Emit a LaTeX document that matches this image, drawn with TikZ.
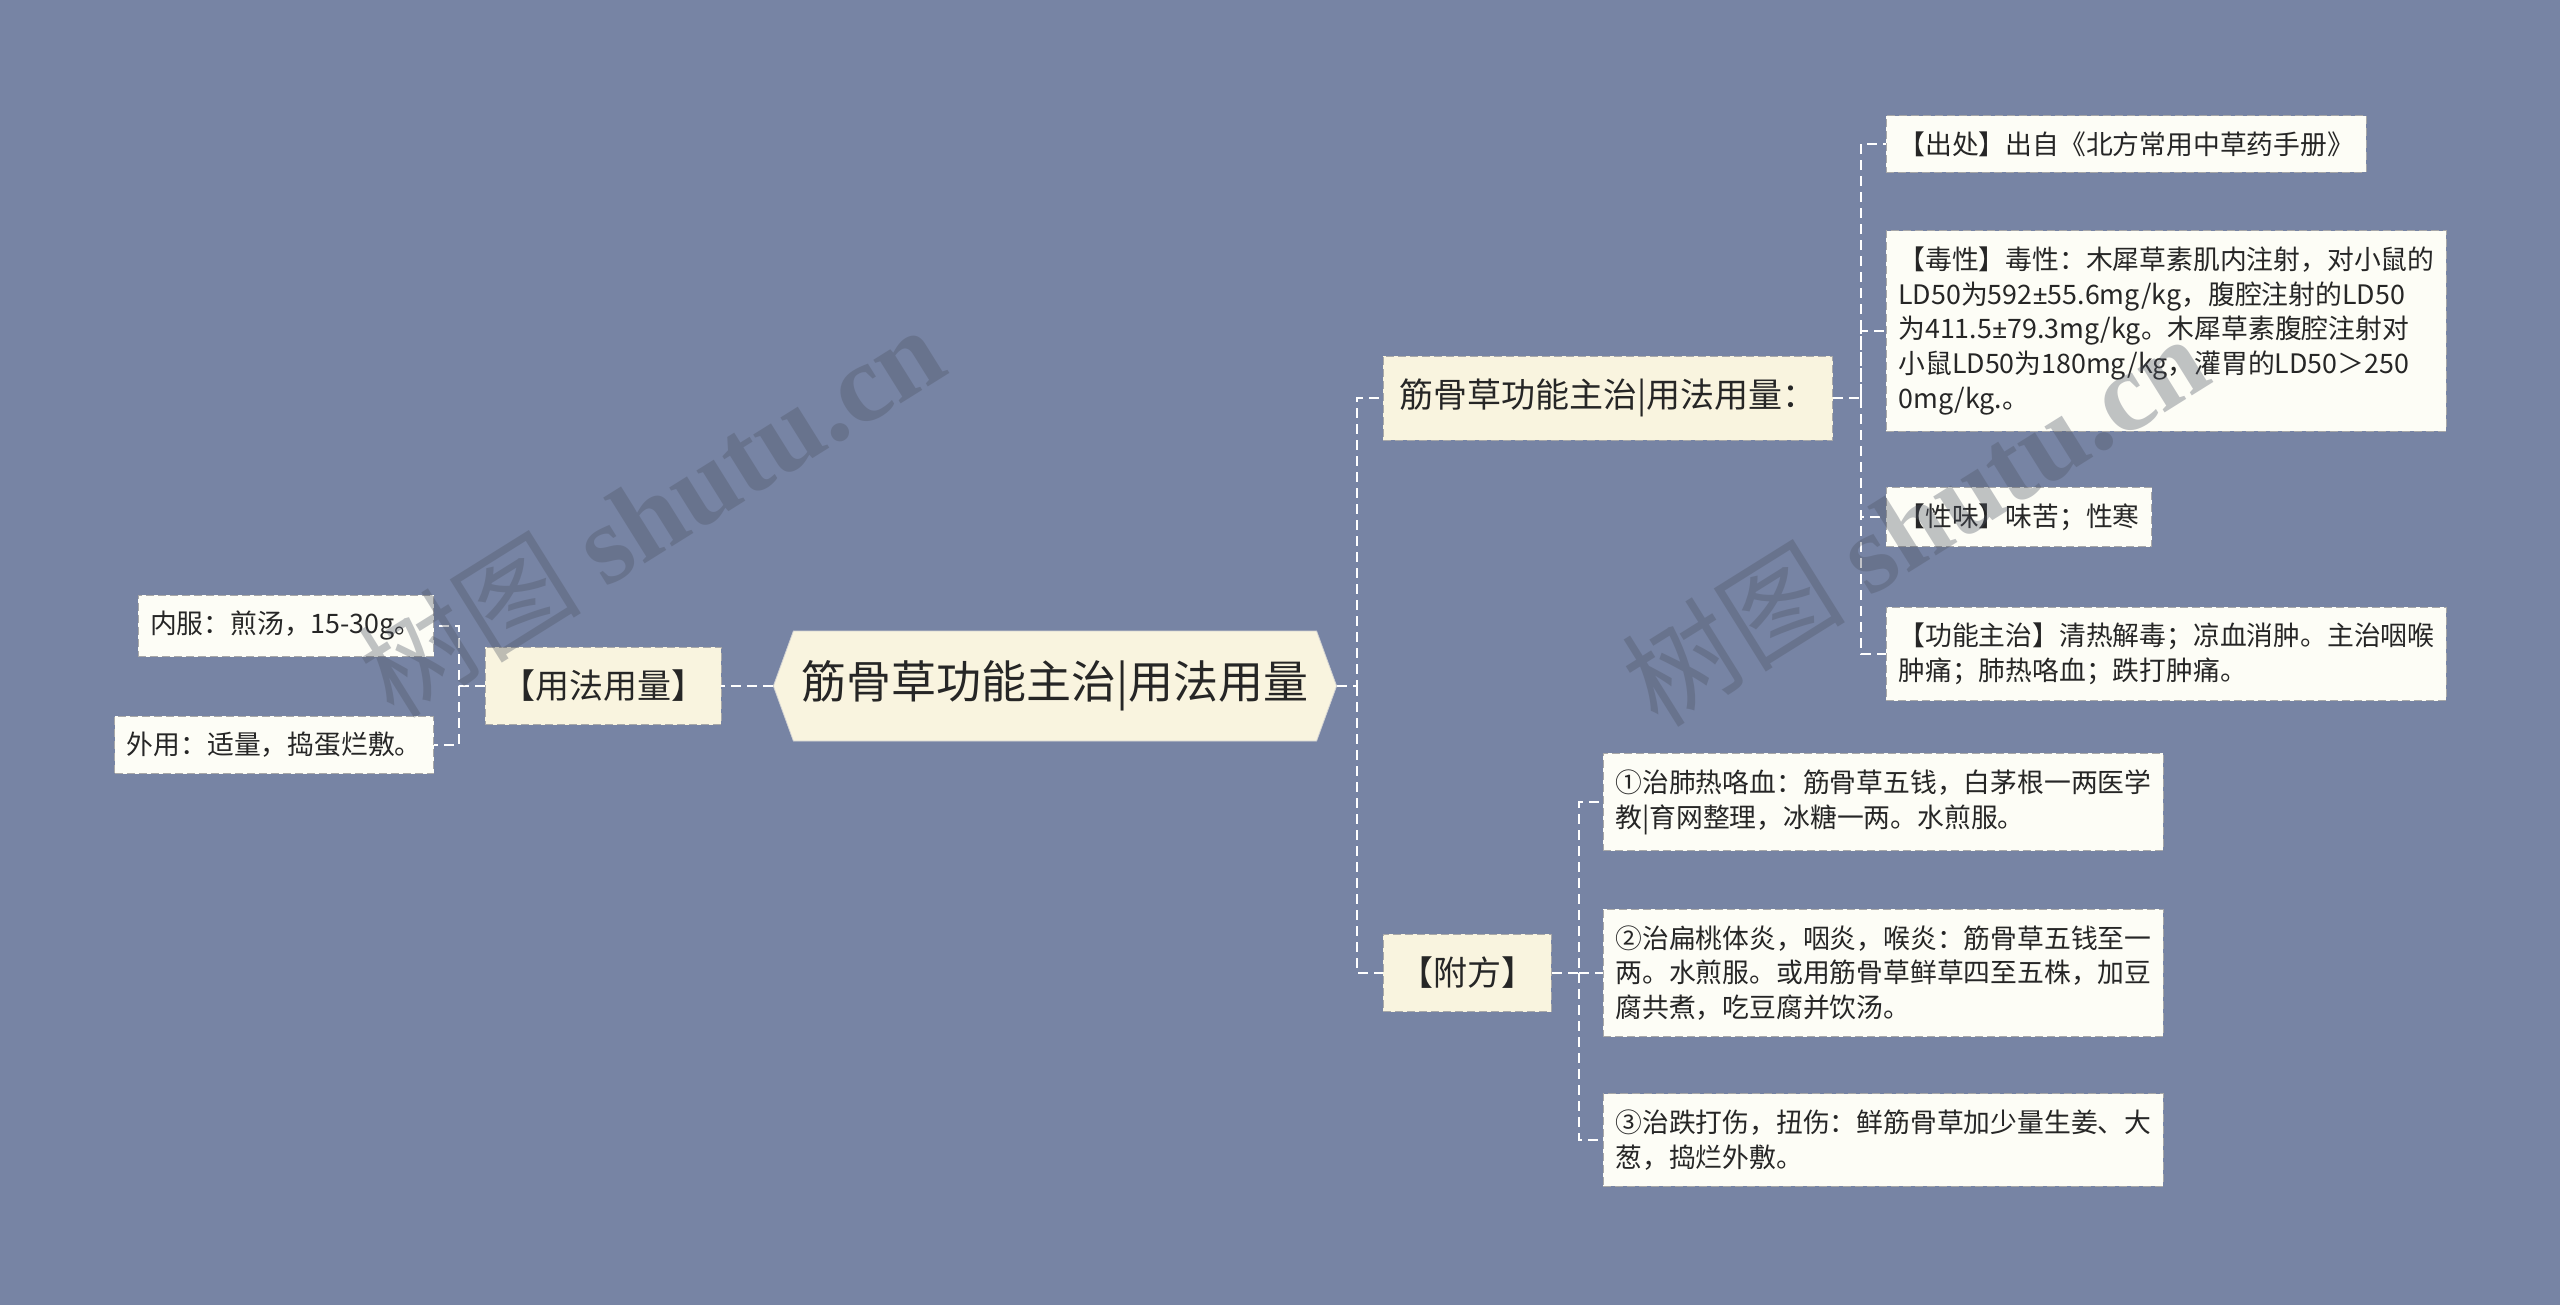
\documentclass[tikz,border=0pt]{standalone}
\usepackage{fontspec}
\setmainfont{Noto Sans CJK SC}
\newfontfamily\wmfont{Liberation Serif}
\newfontfamily\pmfont{Noto Sans}
\newcommand{\pmsign}{{\pmfont ±}}
\usepackage{xcolor}
\definecolor{JGback}{HTML}{7784A4}
\definecolor{JGcream}{HTML}{F9F4DF}
\definecolor{JGleaf}{HTML}{FDFDF6}
\definecolor{JGedge}{HTML}{A8A8A8}
\definecolor{JGtext}{HTML}{262626}
\definecolor{JGmark}{HTML}{4E5463}
\usetikzlibrary{shapes.symbols, positioning, calc}

\begin{document}
\begin{tikzpicture}[
  x=0.5pt, y=-0.5pt,
  root/.style={
    signal, signal to=west and east, signal pointer angle=140,
    fill=JGcream, draw=JGedge!50, text=JGtext,
    font=\fontsize{22.5}{27}\selectfont, inner xsep=4pt, minimum height=55pt
  },
  branch/.style={
    draw=JGedge, dash pattern=on 4pt off 2pt, fill=JGcream, text=JGtext,
    font=\fontsize{17}{20}\selectfont, inner xsep=8pt, inner ysep=11.5pt
  },
  leaf/.style={
    draw=JGedge, dash pattern=on 4pt off 2pt, fill=JGleaf, text=JGtext,
    font=\fontsize{13.4}{17.4}\selectfont, inner xsep=6pt, inner ysep=8pt, align=left
  },
  wide/.style={text width=268pt},
  link/.style={draw=white, line width=1pt, dash pattern=on 5pt off 3pt},
  watermark/.style={text=JGmark, opacity=0.35, rotate=32, font=\fontsize{56}{60}\selectfont},
]

% Canvas
\fill[JGback] (0,0) rectangle (2560,1305);
\useasboundingbox (0,0) rectangle (2560,1305);

% Bus lines
\coordinate (busL) at (459,0);
\coordinate (busR) at (1357,0);
\coordinate (busA) at (1861,0);
\coordinate (busB) at (1579,0);

% Root
\node[root] (root) at (1055,686) {筋骨草功能主治|用法用量};

% Left branch — usage
\node[branch] (usage) at (603,686) {【用法用量】};
\node[leaf, anchor=east] (neifu) at (434,626) {内服：煎汤，15-30g。};
\node[leaf, anchor=east] (waiyong) at (434,745) {外用：适量，捣蛋烂敷。};

% Right branch — functions
\node[branch, anchor=west] (func) at (1383,398) {筋骨草功能主治|用法用量：};
\node[leaf, anchor=west] (source) at (1886,144) {【出处】出自《北方常用中草药手册》};
\node[leaf, wide, anchor=west] (toxic) at (1886,331)
  {【毒性】毒性：木犀草素肌内注射，对小鼠的\\LD50为592\pmsign55.6mg/kg，腹腔注射的LD50\\为411.5\pmsign79.3mg/kg。木犀草素腹腔注射对\\小鼠LD50为180mg/kg，灌胃的LD50＞250\\0mg/kg.。};
\node[leaf, anchor=west] (taste) at (1886,517) {【性味】味苦；性寒};
\node[leaf, wide, anchor=west] (effect) at (1886,654)
  {【功能主治】清热解毒；凉血消肿。主治咽喉\\肿痛；肺热咯血；跌打肿痛。};

% Right branch — prescriptions
\node[branch, anchor=west] (recipe) at (1383,973) {【附方】};
\node[leaf, wide, anchor=west] (rxone) at (1603,802)
  {①治肺热咯血：筋骨草五钱，白茅根一两医学\\教|育网整理，冰糖一两。水煎服。};
\node[leaf, wide, anchor=west] (rxtwo) at (1603,973)
  {②治扁桃体炎，咽炎，喉炎：筋骨草五钱至一\\两。水煎服。或用筋骨草鲜草四至五株，加豆\\腐共煮，吃豆腐并饮汤。};
\node[leaf, wide, anchor=west] (rxthree) at (1603,1140)
  {③治跌打伤，扭伤：鲜筋骨草加少量生姜、大\\葱，捣烂外敷。};

% Connectors
\draw[link] (root.west) -- (usage.east);
\draw[link] (usage.west) -- (usage.west -| busL) |- (neifu.east);
\draw[link] (usage.west -| busL) |- (waiyong.east);

\draw[link] (root.east) -- (root.east -| busR) |- (func.west);
\draw[link] (root.east -| busR) |- (recipe.west);

\draw[link] (func.east) -- (func.east -| busA) |- (source.west);
\draw[link] (func.east -| busA) |- (toxic.west);
\draw[link] (func.east -| busA) |- (taste.west);
\draw[link] (func.east -| busA) |- (effect.west);

\draw[link] (recipe.east) -- (recipe.east -| busB) |- (rxone.west);
\draw[link] (recipe.east -| busB) |- (rxtwo.west);
\draw[link] (recipe.east -| busB) |- (rxthree.west);

% Watermarks
\node[watermark] (wmleft) at (650,510) {树图 {\wmfont\bfseries shutu.cn}};
\node[watermark] (wmright) at (1914,519) {树图 {\wmfont\bfseries shutu.cn}};

\end{tikzpicture}
\end{document}
